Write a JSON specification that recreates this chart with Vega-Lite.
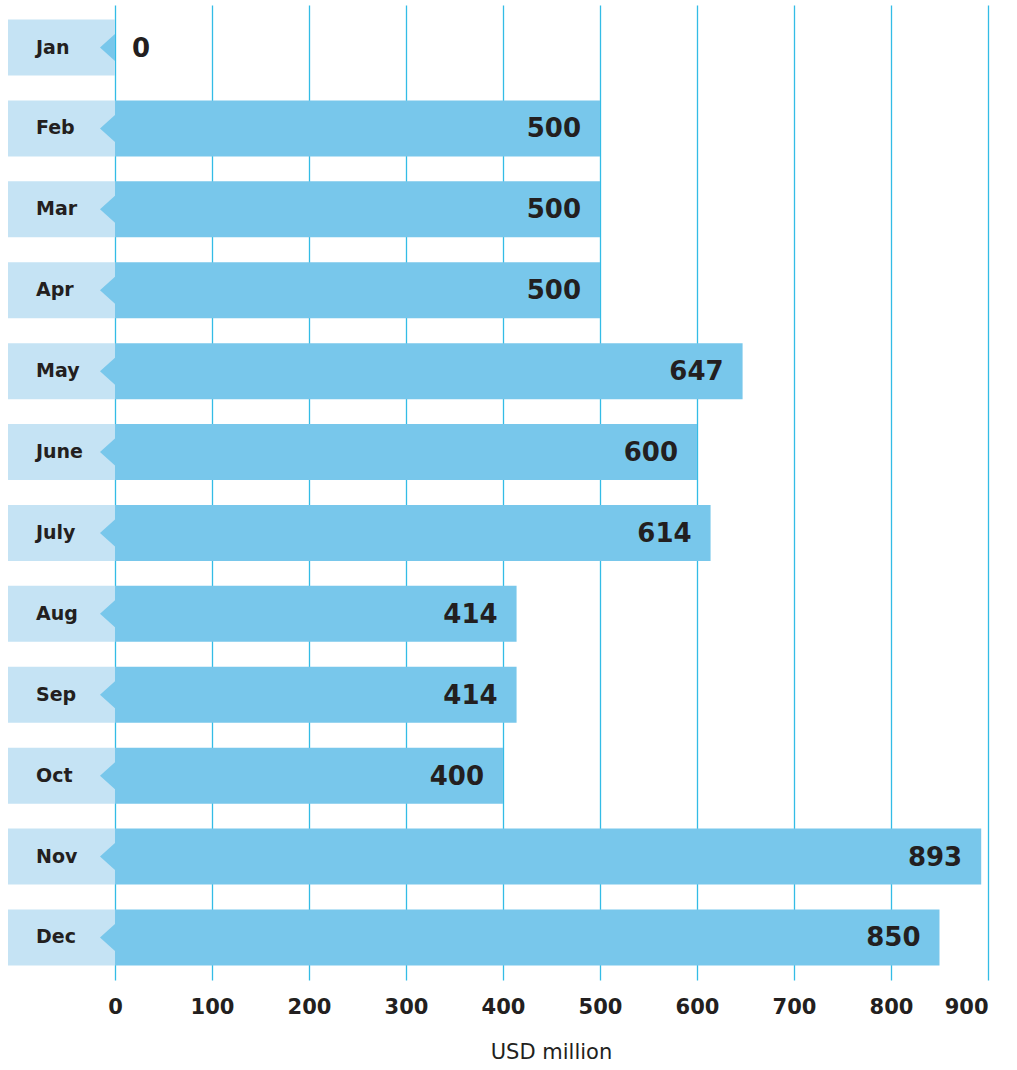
{
  "$schema": "https://vega.github.io/schema/vega-lite/v6.json",
  "width": 980,
  "height": 975,
  "autosize": "none",
  "padding": {"left": 8, "top": 5, "right": 29, "bottom": 90},
  "background": "white",
  "config": {"view": {"stroke": null}},
  "data": {"values": [
    {"month": "Jan", "value": 0},
    {"month": "Feb", "value": 500},
    {"month": "Mar", "value": 500},
    {"month": "Apr", "value": 500},
    {"month": "May", "value": 647},
    {"month": "June", "value": 600},
    {"month": "July", "value": 614},
    {"month": "Aug", "value": 414},
    {"month": "Sep", "value": 414},
    {"month": "Oct", "value": 400},
    {"month": "Nov", "value": 893},
    {"month": "Dec", "value": 850}
  ]},
  "encoding": {
    "y": {"field": "month", "type": "nominal", "sort": null, "axis": null,
          "scale": {"paddingInner": 0.308, "paddingOuter": 0.18}}
  },
  "layer": [
    {
      "mark": {"type": "rect", "color": "#c5e3f4"},
      "encoding": {
        "x": {"datum": -110.3, "type": "quantitative",
              "scale": {"domain": [-110.3, 900], "nice": false, "zero": false},
              "axis": {"values": [0, 100, 200, 300, 400, 500, 600, 700, 800, 900],
                       "title": "USD million", "titleFont": "DejaVu Sans", "titleFontSize": 21,
                       "titleFontWeight": "normal", "titleColor": "#231f20", "titlePadding": 24,
                       "titleX": 543,
                       "labelFont": "DejaVu Sans", "labelFontSize": 21, "labelFontWeight": "bold",
                       "labelColor": "#231f20", "labelPadding": 16,
                       "domain": false, "ticks": false,
                       "grid": true, "gridColor": "#33bce6", "gridWidth": 1.3, "gridOpacity": 1}},
        "x2": {"datum": 0}
      }
    },
    {
      "mark": {"type": "bar", "color": "#78c7eb", "cornerRadius": 0},
      "encoding": {
        "x": {"field": "value", "type": "quantitative"},
        "x2": {"datum": 0}
      }
    },
    {
      "mark": {"type": "point", "shape": "M -1 0 L 1 -1.8 L 1 1.8 Z", "size": 225, "filled": true,
               "color": "#78c7eb", "opacity": 1, "xOffset": -7.5},
      "encoding": {
        "x": {"datum": 0, "type": "quantitative"}
      }
    },
    {
      "mark": {"type": "text", "align": "left", "baseline": "middle", "font": "DejaVu Sans",
               "fontSize": 19, "fontWeight": "bold", "color": "#231f20", "xOffset": -79},
      "encoding": {
        "x": {"datum": 0, "type": "quantitative"},
        "text": {"field": "month"}
      }
    },
    {
      "transform": [{"filter": "datum.value > 0"}],
      "mark": {"type": "text", "align": "right", "baseline": "middle", "font": "DejaVu Sans",
               "fontSize": 26, "fontWeight": "bold", "color": "#231f20", "dx": -19, "dy": 1},
      "encoding": {
        "x": {"field": "value", "type": "quantitative"},
        "text": {"field": "value"}
      }
    },
    {
      "transform": [{"filter": "datum.value == 0"}],
      "mark": {"type": "text", "align": "left", "baseline": "middle", "font": "DejaVu Sans",
               "fontSize": 26, "fontWeight": "bold", "color": "#231f20", "dx": 17, "dy": 1},
      "encoding": {
        "x": {"field": "value", "type": "quantitative"},
        "text": {"field": "value"}
      }
    }
  ]
}
